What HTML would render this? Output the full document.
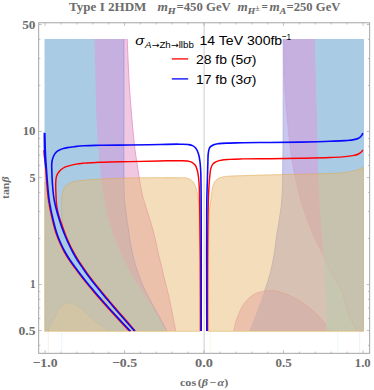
<!DOCTYPE html>
<html><head><meta charset="utf-8"><title>Type I 2HDM</title>
<style>html,body{margin:0;padding:0;background:#fff}svg{display:block}</style>
</head><body>
<svg width="374" height="390" viewBox="0 0 374 390">
<rect width="374" height="390" fill="#fff"/>
<defs><clipPath id="fc"><rect x="44.50" y="38.90" width="319.20" height="292.40"/></clipPath>
<clipPath id="czr"><path d="M363.70 38.90 L315.00 38.90 C315.33 52.60 315.61 66.30 316.00 80.00 C316.38 93.33 316.98 106.66 317.30 120.00 C317.62 133.33 317.54 146.67 317.90 160.00 C318.17 170.00 318.49 180.01 319.00 190.00 C319.34 196.67 319.76 203.34 320.20 210.00 C320.74 218.34 321.37 226.67 322.00 235.00 C322.58 242.67 323.28 250.33 323.80 258.00 C324.52 268.66 325.06 279.33 325.50 290.00 C326.07 303.76 326.23 317.53 326.60 331.30 L363.70 331.30 Z"/></clipPath>
<clipPath id="vzr"><path d="M363.70 38.90 L283.20 38.90 C283.20 65.93 283.34 92.97 283.20 120.00 C283.13 133.33 283.17 146.67 282.90 160.00 C282.59 175.24 282.93 190.54 281.30 205.70 C280.25 215.46 278.29 225.10 276.80 234.80 C275.29 244.66 274.44 254.65 272.30 264.40 C271.15 269.64 269.86 274.86 268.30 280.00 C266.88 284.66 265.15 289.22 263.50 293.80 C261.01 300.71 258.30 307.53 255.70 314.40 C253.57 320.03 251.43 325.67 249.30 331.30 L363.70 331.30 Z"/></clipPath>
<clipPath id="lc"><rect x="41" y="38.90" width="326" height="292.40"/></clipPath>
</defs>
<g clip-path="url(#fc)">
<path d="M60.00 38.90 L127.20 38.90 C127.80 52.60 128.18 66.31 129.00 80.00 C129.64 90.68 130.42 101.34 131.30 112.00 C131.80 118.00 132.32 124.00 132.90 130.00 C133.65 137.68 134.38 145.36 135.40 153.00 C136.16 158.68 137.08 164.34 138.00 170.00 C139.41 178.69 140.49 187.46 142.60 196.00 C144.48 203.63 147.40 210.96 149.60 218.50 C151.68 225.63 153.81 232.76 155.50 240.00 C156.66 244.97 157.42 250.03 158.60 255.00 C159.40 258.35 160.38 261.65 161.20 265.00 C162.13 268.79 162.90 272.61 163.80 276.40 C165.49 283.56 167.59 290.62 169.20 297.80 C170.79 304.89 171.99 312.07 173.40 319.20 C174.20 323.23 175.00 327.27 175.80 331.30 L60.00 331.30 Z" fill="#f0c8e1"/>
<path d="M127.20 38.90 C127.80 52.60 128.18 66.31 129.00 80.00 C129.64 90.68 130.42 101.34 131.30 112.00 C131.80 118.00 132.32 124.00 132.90 130.00 C133.65 137.68 134.38 145.36 135.40 153.00 C136.16 158.68 137.08 164.34 138.00 170.00 C139.41 178.69 140.49 187.46 142.60 196.00 C144.48 203.63 147.40 210.96 149.60 218.50 C151.68 225.63 153.81 232.76 155.50 240.00 C156.66 244.97 157.42 250.03 158.60 255.00 C159.40 258.35 160.38 261.65 161.20 265.00 C162.13 268.79 162.90 272.61 163.80 276.40 C165.49 283.56 167.59 290.62 169.20 297.80 C170.79 304.89 171.99 312.07 173.40 319.20 C174.20 323.23 175.00 327.27 175.80 331.30" fill="none" stroke="#e79ac8" stroke-width="0.9"/>
<path d="M60.00 38.90 L123.90 38.90 C123.90 65.93 123.93 92.97 123.90 120.00 C123.88 136.67 123.57 153.33 123.80 170.00 C123.94 180.00 123.72 190.03 124.50 200.00 C125.28 210.06 127.08 220.01 128.50 230.00 C129.21 235.00 129.78 240.03 130.70 245.00 C131.32 248.35 132.01 251.69 132.80 255.00 C134.52 262.24 136.60 269.42 139.20 276.40 C141.93 283.74 145.41 290.79 148.90 297.80 C152.53 305.08 156.76 312.03 160.60 319.20 C162.75 323.22 164.87 327.27 167.00 331.30 L60.00 331.30 Z" fill="#c5b0e0"/>
<path d="M123.90 38.90 C123.90 65.93 123.93 92.97 123.90 120.00 C123.88 136.67 123.57 153.33 123.80 170.00 C123.94 180.00 123.72 190.03 124.50 200.00 C125.28 210.06 127.08 220.01 128.50 230.00 C129.21 235.00 129.78 240.03 130.70 245.00 C131.32 248.35 132.01 251.69 132.80 255.00 C134.52 262.24 136.60 269.42 139.20 276.40 C141.93 283.74 145.41 290.79 148.90 297.80 C152.53 305.08 156.76 312.03 160.60 319.20 C162.75 323.22 164.87 327.27 167.00 331.30" fill="none" stroke="#a596de" stroke-width="0.9"/>
<path d="M44.50 38.90 L94.50 38.90 C94.83 52.60 95.13 66.30 95.50 80.00 C95.95 96.67 95.99 113.36 97.00 130.00 C97.81 143.36 98.90 156.70 100.40 170.00 C101.53 180.03 102.54 190.08 104.40 200.00 C106.29 210.12 108.46 220.23 111.70 230.00 C113.39 235.08 115.37 240.05 117.40 245.00 C118.78 248.36 120.19 251.70 121.70 255.00 C125.04 262.31 128.77 269.45 132.80 276.40 C137.07 283.76 142.20 290.58 146.70 297.80 C151.10 304.85 155.36 311.99 159.50 319.20 C161.81 323.21 164.03 327.27 166.30 331.30 L44.50 331.30 Z" fill="#aacbe4"/>
<line x1="45.00" y1="38.90" x2="45.00" y2="331.30" stroke="#9ccbe8" stroke-width="1"/>
<path d="M363.70 38.90 L283.20 38.90 C283.20 65.93 283.34 92.97 283.20 120.00 C283.13 133.33 283.17 146.67 282.90 160.00 C282.59 175.24 282.93 190.54 281.30 205.70 C280.25 215.46 278.29 225.10 276.80 234.80 C275.29 244.66 274.44 254.65 272.30 264.40 C271.15 269.64 269.86 274.86 268.30 280.00 C266.88 284.66 265.15 289.22 263.50 293.80 C261.01 300.71 258.30 307.53 255.70 314.40 C253.57 320.03 251.43 325.67 249.30 331.30 L363.70 331.30 Z" fill="#c8c8ee"/>
<path d="M283.20 38.90 C283.20 65.93 283.34 92.97 283.20 120.00 C283.13 133.33 283.17 146.67 282.90 160.00 C282.59 175.24 282.93 190.54 281.30 205.70 C280.25 215.46 278.29 225.10 276.80 234.80 C275.29 244.66 274.44 254.65 272.30 264.40 C271.15 269.64 269.86 274.86 268.30 280.00 C266.88 284.66 265.15 289.22 263.50 293.80 C261.01 300.71 258.30 307.53 255.70 314.40 C253.57 320.03 251.43 325.67 249.30 331.30" fill="none" stroke="#b4b4e8" stroke-width="1"/>
<path d="M363.70 38.90 L283.60 38.90 C283.90 53.60 283.76 68.32 284.50 83.00 C285.12 95.35 286.12 107.69 287.30 120.00 C288.58 133.36 289.83 146.75 292.00 160.00 C293.53 169.39 295.27 178.75 297.50 188.00 C298.94 193.94 300.48 199.86 302.30 205.70 C304.14 211.61 306.28 217.42 308.50 223.20 C310.54 228.52 312.62 233.83 315.00 239.00 C317.50 244.45 320.62 249.59 323.20 255.00 C325.71 260.27 327.72 265.77 330.30 271.00 C333.68 277.85 338.42 284.01 341.50 291.00 C345.08 299.12 346.01 308.24 349.50 316.40 C351.69 321.51 354.50 326.33 357.00 331.30 L363.70 331.30 Z" fill="#c5b0e0"/>
<path d="M233.60 331.30 C234.40 327.87 234.97 324.37 236.00 321.00 C236.99 317.76 238.18 314.58 239.60 311.50 C240.62 309.28 241.65 307.04 243.00 305.00 C244.13 303.30 245.41 301.69 246.80 300.20 C248.93 297.92 251.27 295.71 254.00 294.20 C256.96 292.56 260.37 291.78 263.70 291.20 C266.07 290.78 268.49 290.55 270.90 290.60 C274.98 290.68 279.00 291.81 282.90 293.00 C287.64 294.44 292.18 296.58 296.50 299.00 C299.45 300.65 302.26 302.53 305.00 304.50 C307.41 306.23 309.74 308.08 312.00 310.00 C314.96 312.52 317.83 315.17 320.50 318.00 C322.61 320.24 324.66 322.54 326.50 325.00 C327.63 326.52 328.54 328.20 329.70 329.70 C330.12 330.24 330.57 330.77 331.00 331.30 Z" fill="#f0c8e1"/>
<g clip-path="url(#vzr)"><path d="M233.60 331.30 C234.40 327.87 234.97 324.37 236.00 321.00 C236.99 317.76 238.18 314.58 239.60 311.50 C240.62 309.28 241.65 307.04 243.00 305.00 C244.13 303.30 245.41 301.69 246.80 300.20 C248.93 297.92 251.27 295.71 254.00 294.20 C256.96 292.56 260.37 291.78 263.70 291.20 C266.07 290.78 268.49 290.55 270.90 290.60 C274.98 290.68 279.00 291.81 282.90 293.00 C287.64 294.44 292.18 296.58 296.50 299.00 C299.45 300.65 302.26 302.53 305.00 304.50 C307.41 306.23 309.74 308.08 312.00 310.00 C314.96 312.52 317.83 315.17 320.50 318.00 C322.61 320.24 324.66 322.54 326.50 325.00 C327.63 326.52 328.54 328.20 329.70 329.70 C330.12 330.24 330.57 330.77 331.00 331.30 Z" fill="#c5b0e0"/></g>
<path d="M233.60 331.30 C234.40 327.87 234.97 324.37 236.00 321.00 C236.99 317.76 238.18 314.58 239.60 311.50 C240.62 309.28 241.65 307.04 243.00 305.00 C244.13 303.30 245.41 301.69 246.80 300.20 C248.93 297.92 251.27 295.71 254.00 294.20 C256.96 292.56 260.37 291.78 263.70 291.20 C266.07 290.78 268.49 290.55 270.90 290.60 C274.98 290.68 279.00 291.81 282.90 293.00 C287.64 294.44 292.18 296.58 296.50 299.00 C299.45 300.65 302.26 302.53 305.00 304.50 C307.41 306.23 309.74 308.08 312.00 310.00 C314.96 312.52 317.83 315.17 320.50 318.00 C322.61 320.24 324.66 322.54 326.50 325.00 C327.63 326.52 328.54 328.20 329.70 329.70 C330.12 330.24 330.57 330.77 331.00 331.30" fill="none" stroke="#d77a90" stroke-opacity="0.55" stroke-width="0.8"/>
<path d="M363.70 38.90 L315.00 38.90 C315.33 52.60 315.61 66.30 316.00 80.00 C316.38 93.33 316.98 106.66 317.30 120.00 C317.62 133.33 317.54 146.67 317.90 160.00 C318.17 170.00 318.49 180.01 319.00 190.00 C319.34 196.67 319.76 203.34 320.20 210.00 C320.74 218.34 321.37 226.67 322.00 235.00 C322.58 242.67 323.28 250.33 323.80 258.00 C324.52 268.66 325.06 279.33 325.50 290.00 C326.07 303.76 326.23 317.53 326.60 331.30 L363.70 331.30 Z" fill="#aad3e6"/>
<g clip-path="url(#czr)"><path d="M363.70 38.90 L283.60 38.90 C283.90 53.60 283.76 68.32 284.50 83.00 C285.12 95.35 286.12 107.69 287.30 120.00 C288.58 133.36 289.83 146.75 292.00 160.00 C293.53 169.39 295.27 178.75 297.50 188.00 C298.94 193.94 300.48 199.86 302.30 205.70 C304.14 211.61 306.28 217.42 308.50 223.20 C310.54 228.52 312.62 233.83 315.00 239.00 C317.50 244.45 320.62 249.59 323.20 255.00 C325.71 260.27 327.72 265.77 330.30 271.00 C333.68 277.85 338.42 284.01 341.50 291.00 C345.08 299.12 346.01 308.24 349.50 316.40 C351.69 321.51 354.50 326.33 357.00 331.30 L363.70 331.30 Z" fill="#aacbe4"/><path d="M233.60 331.30 C234.40 327.87 234.97 324.37 236.00 321.00 C236.99 317.76 238.18 314.58 239.60 311.50 C240.62 309.28 241.65 307.04 243.00 305.00 C244.13 303.30 245.41 301.69 246.80 300.20 C248.93 297.92 251.27 295.71 254.00 294.20 C256.96 292.56 260.37 291.78 263.70 291.20 C266.07 290.78 268.49 290.55 270.90 290.60 C274.98 290.68 279.00 291.81 282.90 293.00 C287.64 294.44 292.18 296.58 296.50 299.00 C299.45 300.65 302.26 302.53 305.00 304.50 C307.41 306.23 309.74 308.08 312.00 310.00 C314.96 312.52 317.83 315.17 320.50 318.00 C322.61 320.24 324.66 322.54 326.50 325.00 C327.63 326.52 328.54 328.20 329.70 329.70 C330.12 330.24 330.57 330.77 331.00 331.30 Z" fill="#aacbe4"/></g>
<line x1="363.20" y1="38.90" x2="363.20" y2="331.30" stroke="#9ccbe8" stroke-width="1"/>
<path d="M283.60 38.90 C283.90 53.60 283.76 68.32 284.50 83.00 C285.12 95.35 286.12 107.69 287.30 120.00 C288.58 133.36 289.83 146.75 292.00 160.00 C293.53 169.39 295.27 178.75 297.50 188.00 C298.94 193.94 300.48 199.86 302.30 205.70 C304.14 211.61 306.28 217.42 308.50 223.20 C310.54 228.52 312.62 233.83 315.00 239.00 C317.50 244.45 320.62 249.59 323.20 255.00 C325.71 260.27 327.72 265.77 330.30 271.00 C333.68 277.85 338.42 284.01 341.50 291.00 C345.08 299.12 346.01 308.24 349.50 316.40 C351.69 321.51 354.50 326.33 357.00 331.30" fill="none" stroke="#cf86b4" stroke-opacity="0.38" stroke-width="0.8"/>
<path d="M208.30 331.30 C208.33 307.53 208.20 283.77 208.40 260.00 C208.50 248.67 208.44 237.33 208.80 226.00 C208.98 220.33 208.85 214.63 209.50 209.00 C209.81 206.32 210.32 203.67 210.70 201.00 C211.01 198.83 211.31 196.67 211.60 194.50 C211.92 192.10 211.87 189.64 212.50 187.30 C213.00 185.43 213.50 183.49 214.60 181.90 C215.46 180.66 216.55 179.54 217.80 178.70 C219.39 177.64 221.35 177.25 223.20 176.80 C225.96 176.12 228.86 176.20 231.70 176.00 C236.12 175.69 240.57 175.74 245.00 175.60 C250.00 175.44 255.00 175.25 260.00 175.10 C270.00 174.80 280.00 174.61 290.00 174.40 C296.67 174.26 303.33 174.15 310.00 174.00 C316.67 173.85 323.34 173.88 330.00 173.50 C336.68 173.12 343.44 173.03 350.00 171.70 C352.69 171.15 355.42 170.66 358.00 169.70 C359.97 168.97 361.80 167.90 363.70 167.00 L363.70 331.30 Z" fill="#e6ba74" fill-opacity="0.49"/>
<path d="M208.30 331.30 C208.33 307.53 208.20 283.77 208.40 260.00 C208.50 248.67 208.44 237.33 208.80 226.00 C208.98 220.33 208.85 214.63 209.50 209.00 C209.81 206.32 210.32 203.67 210.70 201.00 C211.01 198.83 211.31 196.67 211.60 194.50 C211.92 192.10 211.87 189.64 212.50 187.30 C213.00 185.43 213.50 183.49 214.60 181.90 C215.46 180.66 216.55 179.54 217.80 178.70 C219.39 177.64 221.35 177.25 223.20 176.80 C225.96 176.12 228.86 176.20 231.70 176.00 C236.12 175.69 240.57 175.74 245.00 175.60 C250.00 175.44 255.00 175.25 260.00 175.10 C270.00 174.80 280.00 174.61 290.00 174.40 C296.67 174.26 303.33 174.15 310.00 174.00 C316.67 173.85 323.34 173.88 330.00 173.50 C336.68 173.12 343.44 173.03 350.00 171.70 C352.69 171.15 355.42 170.66 358.00 169.70 C359.97 168.97 361.80 167.90 363.70 167.00" fill="none" stroke="#e2a850" stroke-opacity="0.6" stroke-width="0.9"/>
<path d="M44.30 166.00 C44.60 167.37 44.95 168.72 45.20 170.10 C46.03 174.54 45.81 179.11 46.21 183.62 C46.69 189.15 47.11 194.70 47.92 200.20 C48.90 206.95 50.34 213.64 51.93 220.28 C52.74 223.66 53.54 227.04 54.55 230.36 C55.18 232.41 55.85 234.45 56.58 236.46 C57.59 239.20 58.71 241.89 59.92 244.54 C61.17 247.28 62.50 249.99 63.96 252.63 C65.50 255.40 67.17 258.09 68.92 260.72 C70.76 263.48 72.79 266.10 74.75 268.77 C76.48 271.12 78.20 273.47 79.97 275.79 C82.04 278.50 84.14 281.18 86.29 283.82 C88.49 286.53 90.42 289.51 93.01 291.84 C95.55 294.13 98.22 296.63 101.50 297.60 C102.48 297.89 103.49 298.35 104.50 298.20 C107.36 297.76 102.65 292.68 101.21 290.18 C99.49 287.21 96.84 284.89 94.72 282.20 C92.66 279.57 90.61 276.93 88.65 274.23 C86.98 271.94 85.38 269.60 83.77 267.26 C81.96 264.63 80.09 262.03 78.40 259.31 C76.79 256.72 75.29 254.07 73.85 251.38 C72.45 248.78 71.13 246.13 69.88 243.45 C68.65 240.83 67.47 238.18 66.40 235.50 C65.15 232.37 63.75 229.28 63.00 226.00 C62.25 222.73 62.12 219.35 61.90 216.00 C61.66 212.34 61.69 208.67 61.70 205.00 C61.70 202.67 61.63 200.33 61.80 198.00 C61.91 196.49 61.98 194.98 62.30 193.50 C62.68 191.71 63.14 189.87 64.10 188.30 C64.97 186.87 66.16 185.60 67.50 184.60 C68.56 183.80 69.78 183.22 71.00 182.70 C72.22 182.18 73.51 181.83 74.80 181.50 C77.15 180.90 79.59 180.70 82.00 180.40 C85.82 179.93 89.66 179.76 93.50 179.50 C99.00 179.12 104.50 178.85 110.00 178.60 C116.66 178.30 123.33 178.06 130.00 177.90 C140.00 177.66 150.00 177.70 160.00 177.70 C166.67 177.70 173.34 177.43 180.00 177.80 C182.67 177.95 185.50 177.45 188.00 178.40 C189.57 179.00 191.09 179.84 192.30 181.00 C193.72 182.35 194.60 184.21 195.40 186.00 C196.25 187.90 196.63 189.98 197.10 192.00 C197.56 193.98 197.91 195.99 198.20 198.00 C198.58 200.65 198.72 203.33 198.90 206.00 C199.35 212.65 199.19 219.33 199.30 226.00 C199.49 237.33 199.60 248.67 199.70 260.00 C199.91 283.77 199.83 307.53 199.90 331.30 L44.50 331.30 Z" fill="#e6ba74" fill-opacity="0.49"/>
<path d="M44.30 166.00 C44.60 167.37 44.95 168.72 45.20 170.10 C46.03 174.54 45.81 179.11 46.21 183.62 C46.69 189.15 47.11 194.70 47.92 200.20 C48.90 206.95 50.34 213.64 51.93 220.28 C52.74 223.66 53.54 227.04 54.55 230.36 C55.18 232.41 55.85 234.45 56.58 236.46 C57.59 239.20 58.71 241.89 59.92 244.54 C61.17 247.28 62.50 249.99 63.96 252.63 C65.50 255.40 67.17 258.09 68.92 260.72 C70.76 263.48 72.79 266.10 74.75 268.77 C76.48 271.12 78.20 273.47 79.97 275.79 C82.04 278.50 84.14 281.18 86.29 283.82 C88.49 286.53 90.42 289.51 93.01 291.84 C95.55 294.13 98.22 296.63 101.50 297.60 C102.48 297.89 103.49 298.35 104.50 298.20 C107.36 297.76 102.65 292.68 101.21 290.18 C99.49 287.21 96.84 284.89 94.72 282.20 C92.66 279.57 90.61 276.93 88.65 274.23 C86.98 271.94 85.38 269.60 83.77 267.26 C81.96 264.63 80.09 262.03 78.40 259.31 C76.79 256.72 75.29 254.07 73.85 251.38 C72.45 248.78 71.13 246.13 69.88 243.45 C68.65 240.83 67.47 238.18 66.40 235.50 C65.15 232.37 63.75 229.28 63.00 226.00 C62.25 222.73 62.12 219.35 61.90 216.00 C61.66 212.34 61.69 208.67 61.70 205.00 C61.70 202.67 61.63 200.33 61.80 198.00 C61.91 196.49 61.98 194.98 62.30 193.50 C62.68 191.71 63.14 189.87 64.10 188.30 C64.97 186.87 66.16 185.60 67.50 184.60 C68.56 183.80 69.78 183.22 71.00 182.70 C72.22 182.18 73.51 181.83 74.80 181.50 C77.15 180.90 79.59 180.70 82.00 180.40 C85.82 179.93 89.66 179.76 93.50 179.50 C99.00 179.12 104.50 178.85 110.00 178.60 C116.66 178.30 123.33 178.06 130.00 177.90 C140.00 177.66 150.00 177.70 160.00 177.70 C166.67 177.70 173.34 177.43 180.00 177.80 C182.67 177.95 185.50 177.45 188.00 178.40 C189.57 179.00 191.09 179.84 192.30 181.00 C193.72 182.35 194.60 184.21 195.40 186.00 C196.25 187.90 196.63 189.98 197.10 192.00 C197.56 193.98 197.91 195.99 198.20 198.00 C198.58 200.65 198.72 203.33 198.90 206.00 C199.35 212.65 199.19 219.33 199.30 226.00 C199.49 237.33 199.60 248.67 199.70 260.00 C199.91 283.77 199.83 307.53 199.90 331.30" fill="none" stroke="#e2a850" stroke-opacity="0.6" stroke-width="0.9"/>
<path d="M48.30 331.30 C49.20 328.87 49.91 326.35 51.00 324.00 C52.06 321.71 53.47 319.60 54.70 317.40 C56.48 314.21 57.48 310.45 60.00 307.80 C61.27 306.46 62.65 305.13 64.30 304.30 C65.64 303.62 67.11 303.10 68.60 303.00 C70.44 302.88 72.28 303.53 74.00 304.20 C76.25 305.07 78.14 306.69 80.10 308.10 C82.52 309.84 84.78 311.81 87.00 313.80 C89.25 315.81 91.23 318.12 93.50 320.10 C96.04 322.32 98.73 324.38 101.50 326.30 C104.08 328.09 106.83 329.63 109.50 331.30 Z" fill="#ffd28c" fill-opacity="0.2"/>
<path d="M48.30 331.30 C49.20 328.87 49.91 326.35 51.00 324.00 C52.06 321.71 53.47 319.60 54.70 317.40 C56.48 314.21 57.48 310.45 60.00 307.80 C61.27 306.46 62.65 305.13 64.30 304.30 C65.64 303.62 67.11 303.10 68.60 303.00 C70.44 302.88 72.28 303.53 74.00 304.20 C76.25 305.07 78.14 306.69 80.10 308.10 C82.52 309.84 84.78 311.81 87.00 313.80 C89.25 315.81 91.23 318.12 93.50 320.10 C96.04 322.32 98.73 324.38 101.50 326.30 C104.08 328.09 106.83 329.63 109.50 331.30" fill="none" stroke="#bdb89a" stroke-opacity="0.5" stroke-width="0.7"/>
</g>
<path d="M44.50 331.30 L199.90 331.30" stroke="#e2b45e" stroke-opacity="0.7" stroke-width="0.9" fill="none"/>
<path d="M208.30 331.30 L363.70 331.30" stroke="#e2b45e" stroke-opacity="0.7" stroke-width="0.9" fill="none"/>
<path d="M44.70 182.00 L44.70 331.30" stroke="#e2b45e" stroke-opacity="0.6" stroke-width="0.9" fill="none"/>
<path d="M363.50 167.00 L363.50 331.30" stroke="#e2b45e" stroke-opacity="0.6" stroke-width="0.9" fill="none"/>
<line x1="48.3" y1="331.30" x2="48.3" y2="353.30" stroke="#e7a9cc" stroke-opacity="0.32" stroke-width="0.7"/>
<line x1="61.7" y1="331.30" x2="61.7" y2="353.30" stroke="#a9d4ec" stroke-opacity="0.32" stroke-width="0.7"/>
<line x1="210.3" y1="331.30" x2="210.3" y2="353.30" stroke="#f0c890" stroke-opacity="0.32" stroke-width="0.7"/>
<line x1="337.7" y1="331.30" x2="337.7" y2="353.30" stroke="#a9e0e6" stroke-opacity="0.32" stroke-width="0.7"/>
<line x1="359.7" y1="331.30" x2="359.7" y2="353.30" stroke="#e7a9cc" stroke-opacity="0.32" stroke-width="0.7"/>
<line x1="204.15" y1="22.80" x2="204.15" y2="353.30" stroke="#dedede" stroke-width="1.5"/>
<g clip-path="url(#lc)">
<path d="M44.00 150.00 C44.10 152.00 44.09 154.01 44.30 156.00 C44.51 158.03 45.01 160.02 45.25 162.04 C45.57 164.70 45.65 167.38 45.85 170.05 C46.19 174.55 46.46 179.06 46.85 183.56 C47.33 189.08 47.76 194.62 48.56 200.10 C49.54 206.84 50.98 213.52 52.57 220.14 C53.37 223.50 54.17 226.87 55.18 230.18 C55.80 232.21 56.46 234.23 57.19 236.23 C58.19 238.95 59.31 241.63 60.51 244.27 C61.75 247.00 63.08 249.69 64.53 252.32 C66.06 255.07 67.72 257.74 69.46 260.36 C71.29 263.11 73.32 265.72 75.28 268.38 C77.00 270.73 78.72 273.08 80.48 275.40 C82.55 278.10 84.65 280.77 86.80 283.41 C88.99 286.11 91.25 288.77 93.50 291.42 C95.79 294.11 98.09 296.78 100.41 299.43 C102.76 302.11 105.13 304.78 107.52 307.43 C109.93 310.12 112.38 312.78 114.82 315.44 C117.28 318.12 119.75 320.79 122.22 323.44 C124.81 326.22 127.43 328.98 130.03 331.75" fill="none" stroke="#ff0000" stroke-width="1.45" stroke-linecap="butt" stroke-linejoin="round"/>
<path d="M135.19 330.87 C132.79 328.11 130.40 325.33 127.99 322.57 C125.66 319.90 123.32 317.24 120.99 314.57 C118.66 311.91 116.30 309.27 113.99 306.58 C111.73 303.94 109.52 301.26 107.30 298.58 C105.09 295.93 102.89 293.26 100.70 290.59 C98.53 287.93 96.33 285.29 94.21 282.60 C92.14 279.97 90.09 277.32 88.12 274.62 C86.45 272.32 84.85 269.97 83.24 267.63 C81.42 264.99 79.55 262.38 77.85 259.66 C76.23 257.06 74.72 254.39 73.27 251.69 C71.87 249.08 70.55 246.41 69.29 243.72 C68.06 241.10 66.88 238.44 65.80 235.75 C64.51 232.54 63.44 229.26 62.30 226.00 C61.03 222.35 59.58 218.74 58.60 215.00 C57.74 211.71 57.03 208.37 56.60 205.00 C56.17 201.69 56.15 198.34 56.00 195.00 C55.86 192.00 55.68 189.00 55.70 186.00 C55.71 184.00 55.65 181.99 55.90 180.00 C56.09 178.45 56.23 176.86 56.80 175.40 C57.32 174.06 58.10 172.82 59.00 171.70 C60.18 170.22 61.69 168.99 63.30 168.00 C65.24 166.81 67.52 166.26 69.70 165.60 C71.77 164.97 73.88 164.50 76.00 164.10 C78.64 163.61 81.33 163.37 84.00 163.10 C89.31 162.57 94.66 162.52 100.00 162.30 C109.99 161.89 120.00 161.82 130.00 161.60 C140.00 161.38 150.00 161.17 160.00 161.00 C166.67 160.89 173.34 160.51 180.00 160.70 C182.33 160.76 184.70 160.59 187.00 161.00 C188.70 161.30 190.49 161.55 192.00 162.40 C193.27 163.12 194.43 164.12 195.30 165.30 C196.30 166.66 196.70 168.39 197.20 170.00 C197.90 172.27 198.18 174.65 198.50 177.00 C198.91 179.98 199.03 183.00 199.20 186.00 C199.38 189.33 199.41 192.67 199.50 196.00 C199.76 206.00 199.77 216.00 199.90 226.00 C200.04 237.33 200.20 248.67 200.30 260.00 C200.51 283.77 200.43 307.53 200.50 331.30" fill="none" stroke="#ff0000" stroke-width="1.45" stroke-linecap="butt" stroke-linejoin="round"/>
<path d="M207.50 331.30 C207.53 307.53 207.45 283.77 207.60 260.00 C207.67 248.67 207.73 237.33 207.90 226.00 C208.05 216.00 208.08 205.99 208.50 196.00 C208.64 192.67 208.78 189.33 209.00 186.00 C209.22 182.66 209.42 179.32 209.80 176.00 C210.10 173.42 210.09 170.76 210.90 168.30 C211.34 166.95 211.74 165.53 212.60 164.40 C213.44 163.31 214.60 162.48 215.80 161.80 C217.43 160.87 219.36 160.59 221.20 160.20 C223.98 159.60 226.86 159.60 229.70 159.40 C234.13 159.08 238.57 159.02 243.00 158.90 C252.00 158.65 261.00 158.79 270.00 158.70 C280.00 158.60 290.00 158.50 300.00 158.30 C310.00 158.10 320.01 157.99 330.00 157.50 C335.00 157.26 340.02 157.13 345.00 156.60 C348.01 156.28 351.06 156.13 354.00 155.40 C355.52 155.02 357.11 154.73 358.50 154.00 C359.39 153.53 360.26 152.98 361.00 152.30 C361.56 151.79 362.06 151.21 362.50 150.60 C362.64 150.40 362.77 150.20 362.90 150.00" fill="none" stroke="#ff0000" stroke-width="1.45" stroke-linecap="butt" stroke-linejoin="round"/>
<path d="M44.80 133.00 C44.93 138.00 45.01 143.00 45.20 148.00 C45.38 152.67 45.59 157.34 45.90 162.00 C46.08 164.67 46.30 167.33 46.50 170.00 C46.84 174.50 47.11 179.00 47.50 183.50 C47.98 189.01 48.40 194.53 49.20 200.00 C50.18 206.73 51.62 213.39 53.20 220.00 C54.00 223.35 54.79 226.71 55.80 230.00 C56.42 232.02 57.07 234.02 57.80 236.00 C58.79 238.71 59.91 241.37 61.10 244.00 C62.33 246.71 63.66 249.39 65.10 252.00 C66.61 254.74 68.27 257.40 70.00 260.00 C71.83 262.74 73.85 265.35 75.80 268.00 C77.52 270.34 79.24 272.69 81.00 275.00 C83.06 277.70 85.16 280.36 87.30 283.00 C89.49 285.70 91.75 288.35 94.00 291.00 C96.28 293.68 98.58 296.35 100.90 299.00 C103.25 301.68 105.62 304.35 108.00 307.00 C110.41 309.68 112.86 312.34 115.30 315.00 C117.76 317.68 120.22 320.34 122.70 323.00 C125.29 325.78 127.90 328.53 130.50 331.30" fill="none" stroke="#0a0aff" stroke-width="1.6" stroke-linecap="butt" stroke-linejoin="round"/>
<path d="M134.70 331.30 C132.30 328.53 129.91 325.76 127.50 323.00 C125.17 320.33 122.83 317.67 120.50 315.00 C118.17 312.33 115.80 309.69 113.50 307.00 C111.24 304.36 109.02 301.67 106.80 299.00 C104.59 296.34 102.39 293.67 100.20 291.00 C98.02 288.34 95.82 285.70 93.70 283.00 C91.63 280.36 89.57 277.71 87.60 275.00 C85.92 272.70 84.31 270.35 82.70 268.00 C80.88 265.35 79.00 262.73 77.30 260.00 C75.67 257.39 74.15 254.71 72.70 252.00 C71.29 249.37 69.96 246.70 68.70 244.00 C67.47 241.36 66.32 238.69 65.20 236.00 C64.37 234.01 63.56 232.02 62.80 230.00 C61.56 226.71 60.45 223.36 59.40 220.00 C57.35 213.43 55.39 206.78 54.20 200.00 C53.24 194.55 52.80 189.02 52.40 183.50 C52.07 179.01 51.92 174.50 51.80 170.00 C51.76 168.33 51.63 166.67 51.70 165.00 C51.75 163.83 51.80 162.65 52.00 161.50 C52.17 160.52 52.42 159.55 52.70 158.60 C52.98 157.65 53.27 156.69 53.70 155.80 C54.14 154.88 54.66 153.99 55.30 153.20 C55.91 152.45 56.63 151.78 57.40 151.20 C58.20 150.60 59.09 150.12 60.00 149.70 C61.12 149.18 62.31 148.84 63.50 148.50 C64.81 148.12 66.16 147.86 67.50 147.60 C69.98 147.12 72.49 146.88 75.00 146.60 C77.99 146.26 81.00 146.00 84.00 145.80 C89.32 145.44 94.67 145.43 100.00 145.30 C110.00 145.06 120.00 145.13 130.00 145.00 C140.00 144.87 150.00 144.66 160.00 144.50 C166.67 144.40 173.33 144.05 180.00 144.20 C182.67 144.26 185.37 144.07 188.00 144.50 C189.56 144.75 191.20 144.88 192.60 145.60 C193.92 146.28 195.06 147.34 196.00 148.50 C197.26 150.07 197.86 152.09 198.50 154.00 C199.36 156.57 199.64 159.31 200.00 162.00 C200.40 164.98 200.53 168.00 200.70 171.00 C200.96 175.66 200.93 180.33 201.00 185.00 C201.05 188.67 201.07 192.33 201.10 196.00 C201.18 206.00 201.17 216.00 201.20 226.00 C201.29 261.10 201.20 296.20 201.20 331.30" fill="none" stroke="#0a0aff" stroke-width="1.6" stroke-linecap="butt" stroke-linejoin="round"/>
<path d="M206.80 331.30 C206.77 296.20 206.53 261.10 206.70 226.00 C206.75 216.00 206.69 206.00 206.90 196.00 C207.04 189.33 207.31 182.67 207.50 176.00 C207.64 171.33 207.70 166.66 207.90 162.00 C208.04 158.83 207.78 155.61 208.40 152.50 C208.76 150.73 208.80 148.73 209.90 147.30 C210.83 146.08 212.30 145.32 213.70 144.70 C215.35 143.97 217.22 143.87 219.00 143.60 C222.63 143.04 226.33 143.24 230.00 143.10 C234.33 142.93 238.67 142.80 243.00 142.70 C252.00 142.49 261.00 142.59 270.00 142.50 C280.00 142.40 290.00 142.30 300.00 142.10 C310.00 141.90 320.00 141.70 330.00 141.30 C335.00 141.10 340.01 141.03 345.00 140.60 C348.01 140.34 351.07 140.31 354.00 139.60 C355.53 139.23 357.14 138.99 358.50 138.20 C359.42 137.67 360.29 136.99 361.00 136.20 C361.59 135.54 362.08 134.78 362.50 134.00 C362.64 133.74 362.77 133.47 362.90 133.20" fill="none" stroke="#0a0aff" stroke-width="1.6" stroke-linecap="butt" stroke-linejoin="round"/>
<path d="M44.30 132.80 C44.37 137.87 44.33 142.94 44.50 148.00 C44.63 152.00 44.78 156.01 45.10 160.00 C45.31 162.67 45.63 165.33 45.90 168.00" fill="none" stroke="#0a0aff" stroke-width="1.6" stroke-linecap="butt" stroke-linejoin="round"/>
</g>
<rect x="38.70" y="22.80" width="331.00" height="330.50" stroke="#9a9a9a" stroke-width="0.9" fill="none"/>
<path d="M45.05 353.30 v-3.00 M45.05 22.80 v3.00 M60.95 353.30 v-1.70 M60.95 22.80 v1.70 M76.85 353.30 v-1.70 M76.85 22.80 v1.70 M92.75 353.30 v-1.70 M92.75 22.80 v1.70 M108.65 353.30 v-1.70 M108.65 22.80 v1.70 M124.55 353.30 v-3.00 M124.55 22.80 v3.00 M140.45 353.30 v-1.70 M140.45 22.80 v1.70 M156.35 353.30 v-1.70 M156.35 22.80 v1.70 M172.25 353.30 v-1.70 M172.25 22.80 v1.70 M188.15 353.30 v-1.70 M188.15 22.80 v1.70 M204.05 353.30 v-3.00 M204.05 22.80 v3.00 M219.95 353.30 v-1.70 M219.95 22.80 v1.70 M235.85 353.30 v-1.70 M235.85 22.80 v1.70 M251.75 353.30 v-1.70 M251.75 22.80 v1.70 M267.65 353.30 v-1.70 M267.65 22.80 v1.70 M283.55 353.30 v-3.00 M283.55 22.80 v3.00 M299.45 353.30 v-1.70 M299.45 22.80 v1.70 M315.35 353.30 v-1.70 M315.35 22.80 v1.70 M331.25 353.30 v-1.70 M331.25 22.80 v1.70 M347.15 353.30 v-1.70 M347.15 22.80 v1.70 M363.05 353.30 v-3.00 M363.05 22.80 v3.00 M38.70 24.56 h3.00 M369.70 24.56 h-3.00 M38.70 131.50 h3.00 M369.70 131.50 h-3.00 M38.70 177.56 h3.00 M369.70 177.56 h-3.00 M38.70 284.50 h3.00 M369.70 284.50 h-3.00 M38.70 330.56 h3.00 M369.70 330.56 h-3.00 M38.70 39.38 h1.70 M369.70 39.38 h-1.70 M38.70 58.50 h1.70 M369.70 58.50 h-1.70 M38.70 85.44 h1.70 M369.70 85.44 h-1.70 M38.70 138.50 h1.70 M369.70 138.50 h-1.70 M38.70 146.33 h1.70 M369.70 146.33 h-1.70 M38.70 155.20 h1.70 M369.70 155.20 h-1.70 M38.70 165.44 h1.70 M369.70 165.44 h-1.70 M38.70 192.38 h1.70 M369.70 192.38 h-1.70 M38.70 211.50 h1.70 M369.70 211.50 h-1.70 M38.70 238.44 h1.70 M369.70 238.44 h-1.70 M38.70 291.50 h1.70 M369.70 291.50 h-1.70 M38.70 299.33 h1.70 M369.70 299.33 h-1.70 M38.70 308.20 h1.70 M369.70 308.20 h-1.70 M38.70 318.44 h1.70 M369.70 318.44 h-1.70 M38.70 345.38 h1.70 M369.70 345.38 h-1.70" stroke="#a6a6a6" stroke-width="0.7" fill="none"/>
<text x="22.20" y="28.51" textLength="13.30" lengthAdjust="spacingAndGlyphs" font-family="'Liberation Serif', serif" font-weight="bold" fill="#6c6c6c" font-size="12.8">50</text>
<text x="22.70" y="135.45" textLength="12.80" lengthAdjust="spacingAndGlyphs" font-family="'Liberation Serif', serif" font-weight="bold" fill="#6c6c6c" font-size="12.8">10</text>
<text x="29.50" y="181.51" textLength="6.00" lengthAdjust="spacingAndGlyphs" font-family="'Liberation Serif', serif" font-weight="bold" fill="#6c6c6c" font-size="12.8">5</text>
<text x="29.90" y="288.45" textLength="5.60" lengthAdjust="spacingAndGlyphs" font-family="'Liberation Serif', serif" font-weight="bold" fill="#6c6c6c" font-size="12.8">1</text>
<text x="18.50" y="334.51" textLength="17.00" lengthAdjust="spacingAndGlyphs" font-family="'Liberation Serif', serif" font-weight="bold" fill="#6c6c6c" font-size="12.8">0.5</text>
<text x="32.55" y="367.30" textLength="25.00" lengthAdjust="spacingAndGlyphs" font-family="'Liberation Serif', serif" font-weight="bold" fill="#6c6c6c" font-size="12.8">−1.0</text>
<text x="111.95" y="367.30" textLength="25.20" lengthAdjust="spacingAndGlyphs" font-family="'Liberation Serif', serif" font-weight="bold" fill="#6c6c6c" font-size="12.8">−0.5</text>
<text x="195.05" y="367.30" textLength="18.00" lengthAdjust="spacingAndGlyphs" font-family="'Liberation Serif', serif" font-weight="bold" fill="#6c6c6c" font-size="12.8">0.0</text>
<text x="275.45" y="367.30" textLength="16.20" lengthAdjust="spacingAndGlyphs" font-family="'Liberation Serif', serif" font-weight="bold" fill="#6c6c6c" font-size="12.8">0.5</text>
<text x="354.80" y="367.30" textLength="15.90" lengthAdjust="spacingAndGlyphs" font-family="'Liberation Serif', serif" font-weight="bold" fill="#6c6c6c" font-size="12.8">1.0</text>
<text x="180.00" y="386.00" textLength="48.20" lengthAdjust="spacingAndGlyphs" font-family="'Liberation Serif', serif" font-weight="bold" fill="#6c6c6c" font-size="10.6">cos<tspan dx="1.4">(</tspan><tspan font-style="italic">β</tspan><tspan dx="1.2">−</tspan><tspan dx="1.2" font-style="italic">α</tspan>)</text>
<text transform="translate(9.3,198.9) rotate(-90)" textLength="22.3" lengthAdjust="spacingAndGlyphs" font-family="'Liberation Serif', serif" font-weight="bold" fill="#6c6c6c" font-size="10.6">tan<tspan font-style="italic">β</tspan></text>
<text x="69.10" y="10.80" textLength="77.30" lengthAdjust="spacingAndGlyphs" font-family="'Liberation Serif', serif" font-weight="bold" fill="#6c6c6c" font-size="12.9" xml:space="preserve">Type I 2HDM</text>
<text x="157.60" y="10.80" textLength="10.40" lengthAdjust="spacingAndGlyphs" font-family="'Liberation Serif', serif" font-weight="bold" fill="#6c6c6c" font-size="12.9" font-style="italic">m</text>
<text x="167.70" y="13.90" textLength="7.90" lengthAdjust="spacingAndGlyphs" font-family="'Liberation Serif', serif" font-weight="bold" fill="#6c6c6c" font-size="9.2" font-style="italic" font-weight="normal" stroke="#646464" stroke-width="0.15">H</text>
<text x="176.50" y="10.80" textLength="54.30" lengthAdjust="spacingAndGlyphs" font-family="'Liberation Serif', serif" font-weight="bold" fill="#6c6c6c" font-size="12.9" xml:space="preserve">=450 GeV</text>
<text x="237.40" y="10.80" textLength="10.20" lengthAdjust="spacingAndGlyphs" font-family="'Liberation Serif', serif" font-weight="bold" fill="#6c6c6c" font-size="12.9" font-style="italic">m</text>
<text x="247.70" y="14.00" textLength="7.40" lengthAdjust="spacingAndGlyphs" font-family="'Liberation Serif', serif" font-weight="bold" fill="#6c6c6c" font-size="9.2" font-style="italic" font-weight="normal" stroke="#646464" stroke-width="0.15">H</text>
<text x="255.20" y="10.50" textLength="4.50" lengthAdjust="spacingAndGlyphs" font-family="'Liberation Serif', serif" font-weight="bold" fill="#6c6c6c" font-size="7.5">±</text>
<text x="261.40" y="10.80" textLength="6.40" lengthAdjust="spacingAndGlyphs" font-family="'Liberation Serif', serif" font-weight="bold" fill="#6c6c6c" font-size="12.9">=</text>
<text x="269.60" y="10.80" textLength="10.20" lengthAdjust="spacingAndGlyphs" font-family="'Liberation Serif', serif" font-weight="bold" fill="#6c6c6c" font-size="12.9" font-style="italic">m</text>
<text x="279.70" y="13.80" textLength="6.50" lengthAdjust="spacingAndGlyphs" font-family="'Liberation Serif', serif" font-weight="bold" fill="#6c6c6c" font-size="9.2" font-style="italic" font-weight="normal" stroke="#646464" stroke-width="0.15">A</text>
<text x="286.50" y="10.80" textLength="53.90" lengthAdjust="spacingAndGlyphs" font-family="'Liberation Serif', serif" font-weight="bold" fill="#6c6c6c" font-size="12.9" xml:space="preserve">=250 GeV</text>
<text x="135.30" y="45.00" textLength="9.00" lengthAdjust="spacingAndGlyphs" font-family="'Liberation Sans', sans-serif" fill="#000" font-size="13.4" font-style="italic">σ</text>
<text x="145.00" y="47.80" textLength="48.90" lengthAdjust="spacingAndGlyphs" font-family="'Liberation Sans', sans-serif" fill="#000" font-size="8.9"><tspan font-style="italic">A</tspan><tspan font-family="DejaVu Sans, sans-serif" font-size="8.6">→</tspan>Zh<tspan font-family="DejaVu Sans, sans-serif" font-size="8.6">→</tspan>llbb</text>
<text x="199.50" y="44.70" textLength="82.70" lengthAdjust="spacingAndGlyphs" font-family="'Liberation Sans', sans-serif" fill="#000" font-size="13.6" xml:space="preserve">14 TeV 300fb</text>
<text x="281.70" y="40.30" textLength="9.40" lengthAdjust="spacingAndGlyphs" font-family="'Liberation Sans', sans-serif" fill="#000" font-size="9.6">−1</text>
<line x1="171.8" y1="58.9" x2="188.2" y2="58.9" stroke="#ff0000" stroke-width="1.3"/>
<text x="196.00" y="64.10" textLength="60.30" lengthAdjust="spacingAndGlyphs" font-family="'Liberation Sans', sans-serif" fill="#000" font-size="13.6" xml:space="preserve">28 fb (5<tspan font-style="italic">σ</tspan>)</text>
<line x1="171.8" y1="78.9" x2="188.2" y2="78.9" stroke="#0000ff" stroke-width="1.3"/>
<text x="196.00" y="84.10" textLength="60.30" lengthAdjust="spacingAndGlyphs" font-family="'Liberation Sans', sans-serif" fill="#000" font-size="13.6" xml:space="preserve">17 fb (3<tspan font-style="italic">σ</tspan>)</text>
</svg>
</body></html>
